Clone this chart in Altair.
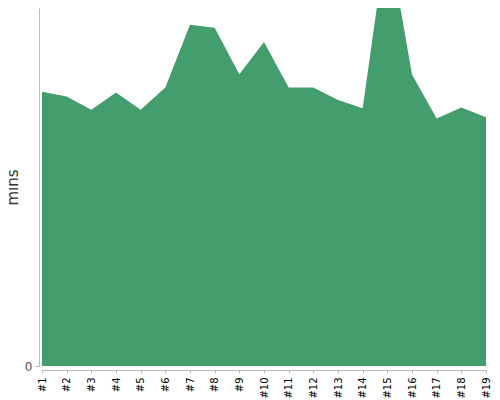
import altair as alt
import pandas as pd

runs = ["#1", "#2", "#3", "#4", "#5", "#6", "#7", "#8", "#9", "#10",
        "#11", "#12", "#13", "#14", "#15", "#16", "#17", "#18", "#19"]
mins = [76.6, 75.3, 71.6, 76.4, 71.6, 77.8, 95.3, 94.5, 81.5, 90.5,
        77.8, 77.8, 74.3, 72.0, 121.0, 81.4, 69.1, 72.2, 69.5]

df = pd.DataFrame({"run": runs, "mins": mins})

chart = alt.Chart(df).mark_area(color="#449d6d", clip=True).encode(
    x=alt.X("run:O", sort=runs, scale=alt.Scale(padding=0),
            axis=alt.Axis(title=None, labelAngle=-90, offset=4, tickSize=3,
                          labelPadding=4, labelFontSize=10, labelColor="#000",
                          domainColor="#bbb", tickColor="#bbb",
                          labelFont="DejaVu Sans")),
    y=alt.Y("mins:Q", scale=alt.Scale(domain=[0, 100], nice=False),
            axis=alt.Axis(title="mins", values=[0], offset=3, grid=False,
                          tickSize=4, labelPadding=3, labelFontSize=12,
                          labelColor="#555", domainColor="#bbb", tickColor="#bbb",
                          titleFontSize=15, titleFontWeight="normal",
                          titleColor="#333", titlePadding=4,
                          labelFont="DejaVu Sans", titleFont="DejaVu Sans")),
).properties(
    width=444, height=358,
    autosize=alt.AutoSizeParams(type="none"),
    padding={"left": 34, "top": 0, "right": 6, "bottom": 34},
).configure_view(strokeWidth=0)

chart.save("out.html", embed_options={"renderer": "svg", "actions": False})
